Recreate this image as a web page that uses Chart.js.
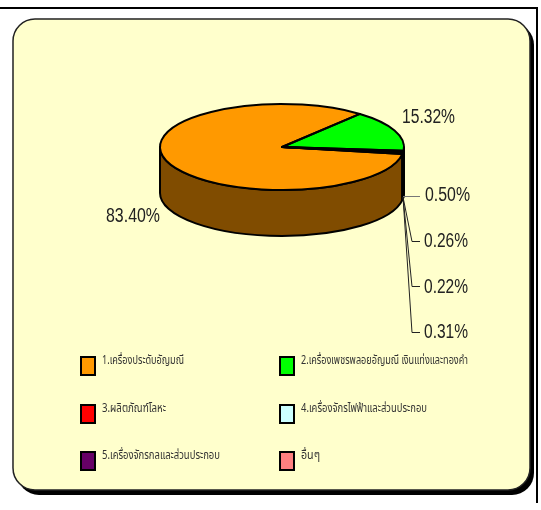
<!DOCTYPE html>
<html>
<head>
<meta charset="utf-8">
<style>
  html, body { margin: 0; padding: 0; background: #fff; }
  canvas { display: block; }
</style>
<script src="https://cdn.jsdelivr.net/npm/chart.js@4"></script>
</head>
<body>
<div style="width:541px;height:510px"><canvas id="c-chart-pie"></canvas></div>
<script>
const categories = [
  '1.เครื่องประดับอัญมณี',
  '2.เครื่องเพชรพลอยอัญมณี เงินแท่งและทองคำ',
  '3.ผลิตภัณฑ์โลหะ',
  '4.เครื่องจักรไฟฟ้าและส่วนประกอบ',
  '5.เครื่องจักรกลและส่วนประกอบ',
  'อื่นๆ'
]
const shares = [83.40, 15.32, 0.50, 0.26, 0.22, 0.31]
const sliceColors = ['#ff9900', '#00ff00', '#ff0000', '#ccffff', '#660066', '#ff8080']
const wallColors = ['#804c00', '#008000', '#800000', '#668080', '#330033', '#804040']

// the pie is flattened to an ellipse, squash = ry / rx
const squash = 43 / 122
const depth = 46
const centerY = 147

const labelFont = '"Liberation Sans Narrow", "Liberation Sans", Arial'
const thaiFont = '"Noto Sans Thai", "Noto Sans", "DejaVu Sans", sans-serif'

function roundRect(ctx, x, y, w, h, r) {
  ctx.beginPath()
  ctx.roundRect(x, y, w, h, r)
}

const panel = {
  id: 'panel',
  beforeDraw(chart) {
    const ctx = chart.ctx
    ctx.save()
    ctx.fillStyle = '#fff'
    ctx.fillRect(0, 0, 541, 510)
    // only the top and right frame lines are there
    ctx.fillStyle = '#000'
    ctx.fillRect(0, 7, 538, 2)
    ctx.fillRect(536, 7, 2, 496)
    roundRect(ctx, 17, 23, 517, 472, 22)
    ctx.fill()
    ctx.fillStyle = '#ffffcc'
    ctx.strokeStyle = '#222'
    ctx.lineWidth = 1.5
    roundRect(ctx, 13, 19, 517, 471, 22)
    ctx.fill()
    ctx.stroke()
    ctx.restore()
  }
}

const pie3d = {
  id: 'pie3d',
  beforeDatasetsDraw(chart) {
    const ctx = chart.ctx
    const arcs = chart.getDatasetMeta(0).data
    const { x, y, outerRadius: r } = arcs[0]
    const ry = r * squash
    ctx.save()
    ctx.lineWidth = 2
    ctx.strokeStyle = '#000'
    ctx.lineJoin = 'round'
    // side wall, only the front half shows
    arcs.forEach((arc, i) => {
      for (const turn of [0, Math.PI * 2]) {
        const a0 = Math.max(arc.startAngle - turn, 0)
        const a1 = Math.min(arc.endAngle - turn, Math.PI)
        if (a1 <= a0) continue
        ctx.beginPath()
        ctx.ellipse(x, y, r, ry, 0, a0, a1)
        ctx.lineTo(x + r * Math.cos(a1), y + ry * Math.sin(a1) + depth)
        ctx.ellipse(x, y + depth, r, ry, 0, a1, a0, true)
        ctx.closePath()
        ctx.fillStyle = wallColors[i]
        ctx.fill()
        ctx.stroke()
      }
    })
    ctx.restore()
    // top face goes through the normal arc drawing, flattened
    ctx.save()
    ctx.translate(x, y)
    ctx.scale(1, squash)
    ctx.translate(-x, -y)
  },
  afterDatasetsDraw(chart) {
    const ctx = chart.ctx
    ctx.restore()
    const arcs = chart.getDatasetMeta(0).data
    const { x, y, outerRadius: r } = arcs[0]
    ctx.save()
    ctx.lineWidth = 2
    ctx.strokeStyle = '#000'
    ctx.lineJoin = 'round'
    arcs.forEach(arc => {
      ctx.beginPath()
      ctx.moveTo(x, y)
      ctx.ellipse(x, y, r, r * squash, 0, arc.startAngle, arc.endAngle)
      ctx.closePath()
      ctx.stroke()
    })
    ctx.restore()
  }
}

const labels = {
  id: 'labels',
  afterDraw(chart) {
    const ctx = chart.ctx
    ctx.save()
    // leader lines
    ctx.lineWidth = 1
    ctx.strokeStyle = '#777'
    ctx.beginPath()
    ctx.moveTo(403, 196.5)
    ctx.lineTo(420, 196.5)
    ctx.stroke()
    ctx.strokeStyle = '#222'
    ;[241.5, 286.5, 332.5].forEach(ly => {
      ctx.beginPath()
      ctx.moveTo(403, 197)
      ctx.lineTo(412, ly)
      ctx.lineTo(420, ly)
      ctx.stroke()
    })
    // percent labels
    const spots = [[106, 216, 54], [402, 117, 53], [425, 195, 45], [424, 241, 44], [424, 287, 44], [424, 332, 44]]
    ctx.fillStyle = '#222'
    ctx.font = '20px ' + labelFont
    ctx.textBaseline = 'middle'
    shares.forEach((v, i) => {
      ctx.fillText(v.toFixed(2) + '%', spots[i][0], spots[i][1], spots[i][2])
    })
    // legend
    const cols = [81, 280]
    const rows = [366, 414, 461]
    const widths = [82, 167, 64, 126, 118, 19]
    categories.forEach((name, i) => {
      const bx = cols[i % 2]
      const by = rows[Math.floor(i / 2)]
      ctx.fillStyle = sliceColors[i]
      ctx.strokeStyle = '#000'
      ctx.lineWidth = 2
      ctx.fillRect(bx, by - 9, 14, 18)
      ctx.strokeRect(bx, by - 9, 14, 18)
      ctx.fillStyle = '#333'
      ctx.font = '12px ' + thaiFont
      ctx.fillText(name, bx + 21, by - 4, widths[i])
    })
    ctx.restore()
  }
}

new Chart(document.getElementById('c-chart-pie').getContext('2d'), {
  type: 'pie',
  data: {
    labels: categories,
    datasets: [{ data: shares, backgroundColor: sliceColors, borderWidth: 0 }]
  },
  options: {
    responsive: true,
    maintainAspectRatio: false,
    animation: false,
    rotation: 99.5,
    // chart area becomes a 244px square centred on the pie
    layout: { padding: { left: 160, right: 137, top: centerY - 122, bottom: 510 - centerY - 122 } },
    plugins: { legend: { display: false }, tooltip: { enabled: false } }
  },
  plugins: [panel, pie3d, labels]
})
</script>
</body>
</html>
